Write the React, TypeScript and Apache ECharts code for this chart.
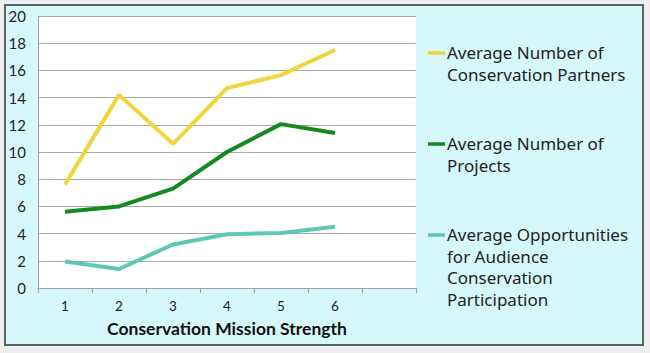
import React, { useEffect, useRef } from "react";
import * as echarts from "echarts";

const categories = ["1", "2", "3", "4", "5", "6", ""];
const partners = [7.6, 14.2, 10.6, 14.7, 15.65, 17.5];
const projects = [5.6, 6.0, 7.3, 10.0, 12.05, 11.4];
const participation = [1.95, 1.4, 3.2, 3.95, 4.05, 4.5];
const seriesNames = [
  "Average Number of\nConservation Partners",
  "Average Number of\nProjects",
  "Average Opportunities\nfor Audience\nConservation\nParticipation",
];
const colors = ["#f2d53c", "#15891f", "#5fc8b5"];

export default function App() {
  const ref = useRef<HTMLDivElement>(null);
  useEffect(() => {
    if (!ref.current) return;
    const chart = echarts.init(ref.current, null, { renderer: "svg" });
    const legendY = [53, 144, 235];
    const graphic: any[] = [
      {
        type: "rect",
        z: -10,
        silent: true,
        shape: { x: 5, y: 5, width: 638, height: 340 },
        style: { fill: "#d6f8fc", stroke: "#5a6266", lineWidth: 2 },
      },
    ];
    seriesNames.forEach((n, i) => {
      graphic.push({
        type: "line",
        shape: { x1: 428, y1: legendY[i], x2: 445, y2: legendY[i] },
        style: { stroke: colors[i], lineWidth: 3.5 },
      });
      graphic.push({
        type: "text",
        x: 447,
        y: legendY[i] - 11,
        style: {
          text: n,
          fill: "#222",
          font: "17px 'Noto Sans'",
          lineHeight: 21.5,
          verticalAlign: "top",
          align: "left",
        },
      });
    });
    chart.setOption({
      animation: false,
      backgroundColor: "#efefef",
      graphic,
      grid: {
        left: 38,
        top: 16,
        right: 234,
        bottom: 65,
        show: true,
        backgroundColor: "#ffffff",
        borderWidth: 0,
      },
      xAxis: {
        type: "category",
        data: categories,
        boundaryGap: true,
        name: "Conservation Mission Strength",
        nameLocation: "middle",
        nameGap: 31,
        nameTextStyle: {
          fontFamily: "Lato",
          fontWeight: "bold",
          fontSize: 17.5,
          color: "#111",
        },
        axisLine: { lineStyle: { color: "#a0a0a0", width: 1 } },
        axisTick: { show: true, length: 5, lineStyle: { color: "#a0a0a0" } },
        axisLabel: {
          color: "#222",
          fontFamily: "Lato",
          fontSize: 13.5,
          margin: 11,
        },
        splitLine: { show: false },
      },
      yAxis: {
        type: "value",
        min: 0,
        max: 20,
        interval: 2,
        axisLine: { show: true, lineStyle: { color: "#a0a0a0" } },
        axisTick: { show: false },
        axisLabel: {
          color: "#222",
          fontFamily: "Lato",
          fontSize: 15,
          margin: 12,
        },
        splitLine: { lineStyle: { color: "#aaaaaa", width: 1 } },
      },
      series: [partners, projects, participation].map((d, i) => ({
        name: seriesNames[i],
        type: "line",
        data: d,
        symbol: "none",
        lineStyle: { color: colors[i], width: 4 },
        itemStyle: { color: colors[i] },
      })),
    });
    return () => chart.dispose();
  }, []);
  return (
    <div
      ref={ref}
      style={{ position: "fixed", left: 0, top: 0, width: 650, height: 353 }}
    />
  );
}
